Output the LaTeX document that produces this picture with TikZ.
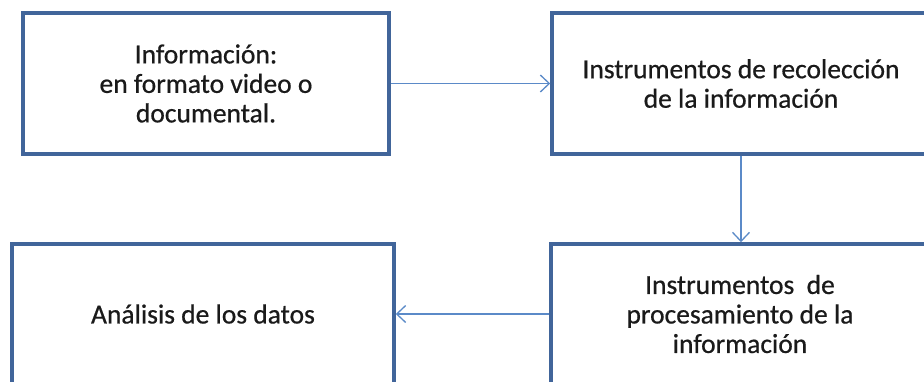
\documentclass[tikz,border=0pt]{standalone}
\usepackage{fontspec}
\setmainfont{Carlito}
\newfontfamily\boxfont{Carlito}[FakeBold=0.6]
\usetikzlibrary{arrows.meta}
\definecolor{boxline}{HTML}{41659A}
\definecolor{arrowline}{HTML}{5B8AC8}
\definecolor{txt}{HTML}{1A1A1A}
\begin{document}
\begin{tikzpicture}[x=1pt,y=-1pt,
  box/.style={draw=boxline, line width=3.5pt, rectangle, align=center,
    font=\boxfont\fontsize{27.5}{29.5}\selectfont, text=txt, inner sep=0pt},
  conn/.style={draw=arrowline, line width=1.3pt,
    -{Straight Barb[length=9pt,width=17pt,line width=1.3pt]}}]
\useasboundingbox (0,0) rectangle (924,381);
\clip (0,0) rectangle (924,381);
\fill[white] (0,0) rectangle (924,381);
\node[box, minimum width=366pt, minimum height=141pt] (info) at (206,83.5)
  {Información:\\en formato video o\\documental.};
\node[box, minimum width=378pt, minimum height=141pt] (reco) at (741,83.5)
  {Instrumentos de recolección\\de la información};
\node[box, minimum width=382pt, minimum height=140pt] (anal) at (203,314)
  {Análisis de los datos};
\node[box, minimum width=378pt, minimum height=140pt] (proc) at (740,314)
  {Instrumentos\ \ de\\procesamiento de la\\información};
\draw[conn] (info.east) -- (reco.west);
\draw[conn] (reco.south) -- (reco.south |- proc.north);
\draw[conn] (proc.west) -- (anal.east);
\end{tikzpicture}
\end{document}
